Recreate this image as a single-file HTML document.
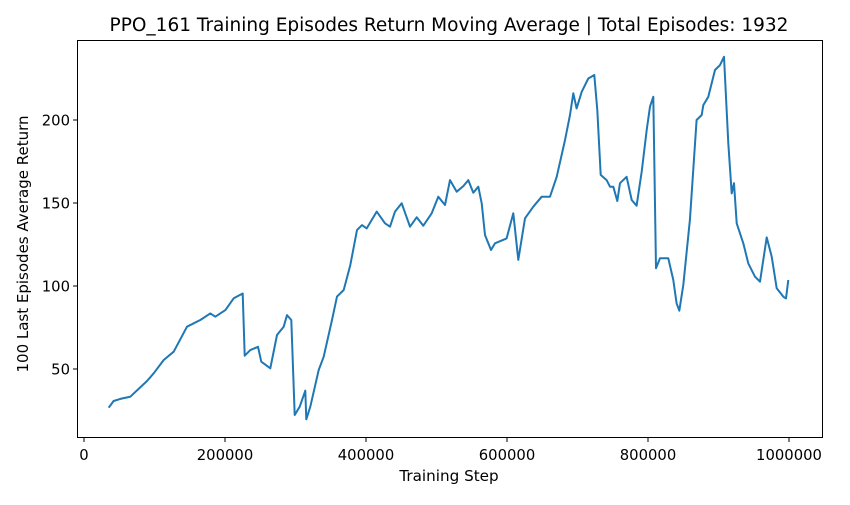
<!DOCTYPE html>
<html><head><meta charset="utf-8"><style>
body{margin:0;background:#fff}
svg{font-family:"DejaVu Sans","Liberation Sans",sans-serif}
</style></head><body>
<svg id="chart" width="850" height="500">
<rect width="850" height="500" fill="#fff"/>
<text x="449" y="31" text-anchor="middle" font-size="18.5" fill="#000">PPO_161 Training Episodes Return Moving Average | Total Episodes: 1932</text>
<g id="plot"></g>
<rect x="77.5" y="40.5" width="745" height="397" fill="none" stroke="#000" stroke-width="1"/>
<text x="449" y="481" text-anchor="middle" font-size="15.2">Training Step</text>
<text transform="translate(28,244) rotate(-90)" text-anchor="middle" font-size="15">100 Last Episodes Average Return</text>
</svg>
<script>
const steps=[35000,42000,51500,65700,89400,98900,113000,127200,146100,165000,179200,186300,200500,212300,225100,227900,235900,246800,251500,264300,273800,283300,288000,294100,298900,306000,313900,315300,321000,332900,340000,351800,358900,368300,377700,387200,394300,401000,415200,427000,434000,441100,450600,462400,471900,481300,493200,502600,512000,519100,528600,538000,545100,552200,559300,564100,568800,577300,583000,599500,609000,616000,625500,637300,649200,661000,670500,682200,689300,694000,698700,705900,715300,723800,728100,732900,741300,746100,750800,756500,760300,769700,776900,783900,791100,798100,802800,807500,811300,817000,828800,835900,840600,844400,850000,859500,869000,876200,878500,885500,895000,902100,907800,913900,918700,922000,925800,935200,942300,951800,958900,968300,975400,982500,992000,995700,999000];
const returns=[26.7,30.7,32,33.3,42.8,47.4,55.4,60.4,75.5,79.5,83.5,81.5,85.5,92.6,95.5,58,61.4,63.4,54.4,50.4,70.5,75.5,82.5,79.5,22.3,27.3,36.9,19.7,27.3,49.4,57.4,79.5,93.6,97.6,112.6,133.7,136.7,134.7,144.8,137.8,135.7,144.8,149.8,135.7,141.4,136.3,143.8,153.8,148.8,163.8,156.8,160.2,163.8,156.2,159.8,149.8,130.7,121.7,125.7,128.7,143.8,115.7,140.8,147.8,153.8,153.8,165.8,187.9,203,216.1,207,217,225,227.1,206,166.9,163.8,159.8,159.8,151.2,161.9,165.8,151.8,148.4,168.9,194,208,214,110.7,116.7,116.7,103.6,89.6,85.1,100.6,139.8,200,203,209,214,230.1,233.1,238.1,186,155.8,161.9,137.8,125.7,113.6,105.6,102.6,129.3,117.7,98.6,93.5,92.5,103.6];
const xTicks=[0,200000,400000,600000,800000,1000000];
const yTicks=[50,100,150,200];
const NS="http://www.w3.org/2000/svg";
const X=v=>84+v*141/200000;
const Y=v=>369-(v-50)*83/50;
const g=document.getElementById('plot');
function mk(t,a){const e=document.createElementNS(NS,t);for(const k in a)e.setAttribute(k,a[k]);return e;}
xTicks.forEach(t=>{
  const l=mk('line',{x1:X(t),x2:X(t),y1:437.5,y2:442,stroke:'#000'});
  
  
  g.appendChild(l);
  const tx=mk('text',{x:X(t),y:460,'text-anchor':'middle','font-size':'14.8'});
  tx.textContent=t;
  
  
  g.appendChild(tx);
});
yTicks.forEach(t=>{
  const l=mk('line',{x1:73,x2:77.5,y1:Y(t),y2:Y(t),stroke:'#000'});
  
  
  g.appendChild(l);
  const tx=mk('text',{x:70,y:Y(t)+5.5,'text-anchor':'end','font-size':'14.8'});
  tx.textContent=t;
  
  
  g.appendChild(tx);
});
const d=steps.map((s,i)=>(i?'L':'M')+X(s).toFixed(1)+','+Y(returns[i]).toFixed(1)).join('');
const p=mk('path',{d:d,fill:'none',stroke:'#1f77b4','stroke-width':'2','stroke-linejoin':'round'});


g.appendChild(p);
</script>
</body></html>
